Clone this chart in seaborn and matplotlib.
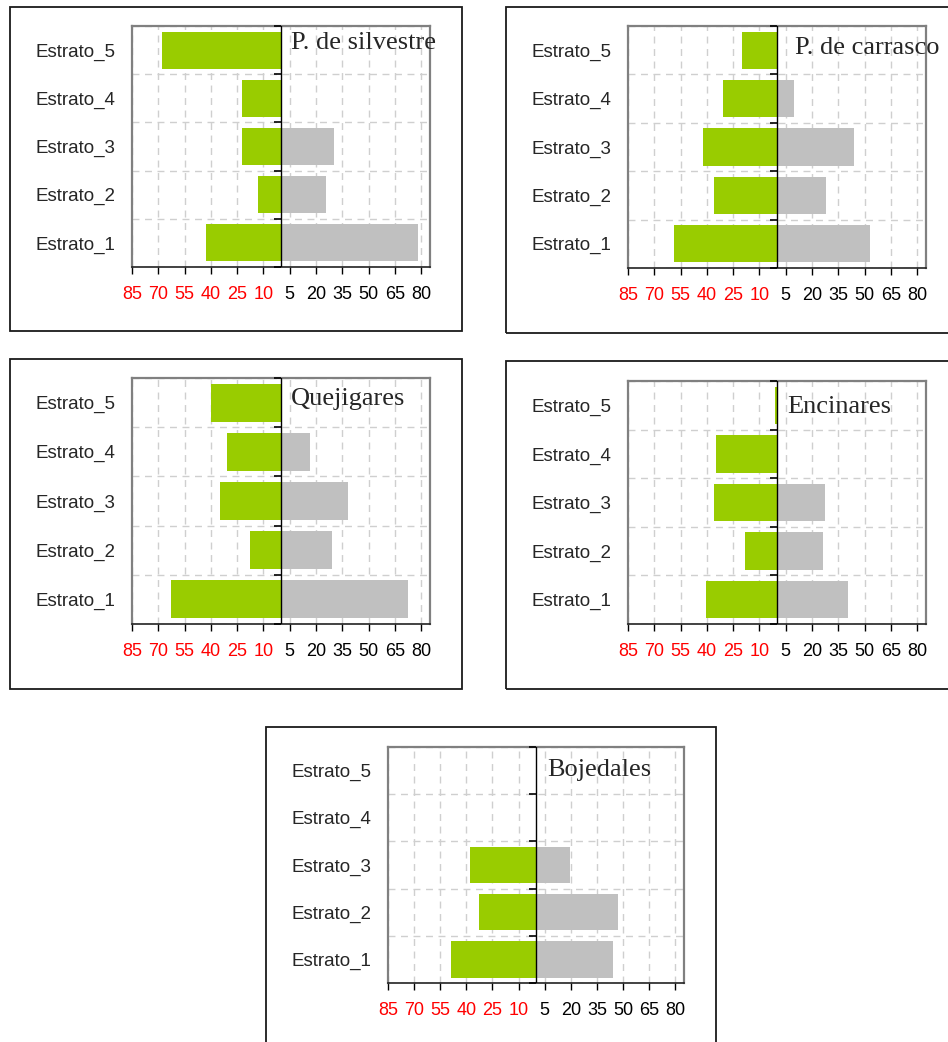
import numpy as np
import pandas as pd
import matplotlib
matplotlib.use("Agg")
import matplotlib.pyplot as plt
from matplotlib.patches import Rectangle
import seaborn as sns

sns.set_style("white")
plt.rcParams["font.family"] = ["Liberation Sans", "DejaVu Sans"]

# ---- data -------------------------------------------------------------
categories = ["Estrato_5", "Estrato_4", "Estrato_3", "Estrato_2", "Estrato_1"]

silvestre_left = [68, 22, 22, 13, 43]
silvestre_right = [0, 0, 30, 25.5, 78]

carrasco_left = [20, 31, 42, 36, 59]
carrasco_right = [0, 9.5, 44, 28, 53]

quejigares_left = [40, 31, 35, 17.5, 63]
quejigares_right = [0, 16.5, 38.5, 29, 72.5]

encinares_left = [1, 35, 36, 18, 40.5]
encinares_right = [0, 0.5, 27.5, 26.5, 40.5]

bojedales_left = [0, 0, 38, 33, 49]
bojedales_right = [0, 0, 19.5, 47, 44.5]

titles = ["P. de silvestre", "P. de carrasco", "Quejigares", "Encinares", "Bojedales"]
tick_values = list(range(-85, 81, 15))

GREEN = "#99CC00"
GREY = "#C0C0C0"

# ---- layout (pixels) --------------------------------------------------
W, H = 948, 1042
fig = plt.figure(figsize=(W / 100, H / 100), dpi=100)
fig.patch.set_facecolor("white")


def fig_rect(left, top, right, bottom):
    return [left / W, 1 - bottom / H, (right - left) / W, (bottom - top) / H]


panels = [
    # axes box, outer frame, title offset (px right of zero, px below top)
    dict(left=silvestre_left, right=silvestre_right,
         ax=(132, 26, 430, 267), frame=(10, 7, 462, 331), toff=(10, 17)),
    dict(left=carrasco_left, right=carrasco_right,
         ax=(628, 26, 926, 268), frame=(506, 7, 970, 333), toff=(18, 22)),
    dict(left=quejigares_left, right=quejigares_right,
         ax=(132, 378, 430, 624), frame=(10, 359, 462, 689), toff=(10, 21)),
    dict(left=encinares_left, right=encinares_right,
         ax=(628, 381, 926, 624), frame=(506, 361, 970, 689), toff=(10, 26)),
    dict(left=bojedales_left, right=bojedales_right,
         ax=(388, 747, 684, 983), frame=(266, 727, 716, 1060), toff=(11, 23)),
]

for p, title in zip(panels, titles):
    # outer frame around each panel
    fx0, fy0, fx1, fy1 = p["frame"]
    fig.add_artist(Rectangle((fx0 / W, 1 - fy1 / H), (fx1 - fx0) / W, (fy1 - fy0) / H,
                             transform=fig.transFigure, fill=False,
                             edgecolor="#1a1a1a", lw=1.3, zorder=0))

    ax = fig.add_axes(fig_rect(*p["ax"]))
    df = pd.DataFrame({"cat": categories,
                       "neg": [-v for v in p["left"]],
                       "pos": p["right"]})

    sns.barplot(data=df, x="neg", y="cat", order=categories, orient="h",
                color=GREEN, saturation=1, width=0.77, errorbar=None, ax=ax,
                linewidth=0, zorder=2)
    sns.barplot(data=df, x="pos", y="cat", order=categories, orient="h",
                color=GREY, saturation=1, width=0.77, errorbar=None, ax=ax,
                linewidth=0, zorder=2)

    n = len(categories)
    ax.set_xlim(-85, 85)
    ax.set_ylim(n - 0.5, -0.5)
    ax.set_xlabel("")
    ax.set_ylabel("")

    # x ticks: absolute values, left half in red
    ax.set_xticks(tick_values)
    ax.set_xticklabels([str(abs(t)) for t in tick_values], fontsize=13)
    for lab, t in zip(ax.get_xticklabels(), tick_values):
        lab.set_color("red" if t < 0 else "black")
    ax.tick_params(axis="x", which="major", direction="out", length=5,
                   width=1, color="black", pad=9, bottom=True)

    # category labels
    ax.set_yticks(range(n))
    ax.set_yticklabels(categories, fontsize=13.5)
    ax.tick_params(axis="y", which="both", length=0, pad=12)

    # dashed grid: vertical at ticks, horizontal between categories
    ax.set_yticks(np.arange(-0.5, n), minor=True)
    ax.set_axisbelow(True)
    ax.xaxis.grid(True, which="major", ls=(0, (5, 4)), color="#CFCFCF", lw=1)
    ax.yaxis.grid(True, which="minor", ls=(0, (5, 4)), color="#CFCFCF", lw=1)
    ax.yaxis.grid(False, which="major")

    # central axis with small ticks at category boundaries
    ax.axvline(0, color="black", lw=1, zorder=4)
    bounds = np.arange(-0.5, n)
    ax.plot(np.zeros(len(bounds)), bounds, ls="none", marker=0,
            markersize=5, markeredgewidth=1.2, color="black", zorder=4,
            clip_on=False)

    for side in ("left", "top", "right"):
        ax.spines[side].set_color("#808080")
        ax.spines[side].set_linewidth(1.6)
    ax.spines["bottom"].set_color("#222222")
    ax.spines["bottom"].set_linewidth(1.2)

    # panel title next to the central axis
    dx, dy = p["toff"]
    ax.annotate(title, xy=(0, 1), xycoords=("data", "axes fraction"),
                xytext=(dx * 0.72, -dy * 0.72), textcoords="offset points",
                ha="left", va="center", fontsize=19,
                family=["Liberation Serif", "DejaVu Serif"], zorder=5,
                annotation_clip=False)

fig.savefig("out.png", dpi=100, facecolor="white")
